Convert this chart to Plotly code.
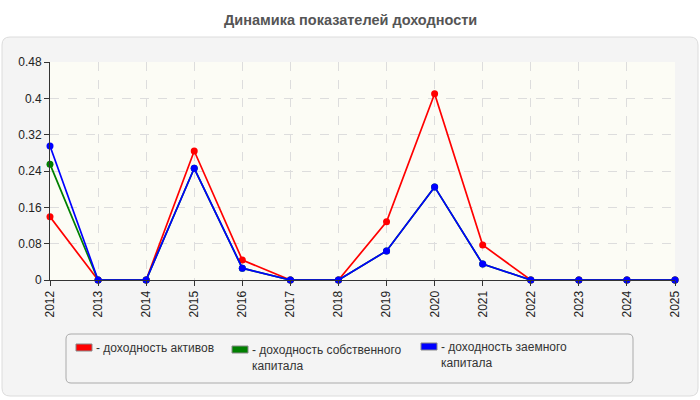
import plotly.graph_objects as go

years = [str(y) for y in range(2012, 2026)]
roa = [0.139, 0, 0, 0.284, 0.044, 0, 0, 0.128, 0.41, 0.077, 0, 0, 0, 0]
roe = [0.255, 0, 0, 0.246, 0.026, 0, 0, 0.064, 0.205, 0.035, 0, 0, 0, 0]
rod = [0.295, 0, 0, 0.246, 0.026, 0, 0, 0.064, 0.205, 0.035, 0, 0, 0, 0]
names = ["- доходность активов", "- доходность собственного<br>капитала", "- доходность заемного<br>капитала"]
colors = ["#ff0000", "#008000", "#0000ff"]
yticks = [0, 0.08, 0.16, 0.24, 0.32, 0.4, 0.48]
ytick_text = ["0", "0.08", "0.16", "0.24", "0.32", "0.4", "0.48"]

W, H = 700, 400
L, R, T, B = 50, 25, 62, 120
pw, ph = W - L - R, H - T - B

def px(x):
    return (x - L) / pw

def py(y):
    return (H - B - y) / ph

fig = go.Figure()
for vals, nm, c in zip([roa, roe, rod], names, colors):
    fig.add_trace(go.Scatter(x=years, y=vals, mode="lines+markers", name=nm,
                             line=dict(color=c, width=1.7), cliponaxis=False,
                             marker=dict(color=c, size=7), showlegend=False))

shapes = []

def rrect(x0, y0, x1, y1, r):
    return (f"M {px(x0+r)},{py(y0)} L {px(x1-r)},{py(y0)} Q {px(x1)},{py(y0)} {px(x1)},{py(y0+r)} "
            f"L {px(x1)},{py(y1-r)} Q {px(x1)},{py(y1)} {px(x1-r)},{py(y1)} "
            f"L {px(x0+r)},{py(y1)} Q {px(x0)},{py(y1)} {px(x0)},{py(y1-r)} "
            f"L {px(x0)},{py(y0+r)} Q {px(x0)},{py(y0)} {px(x0+r)},{py(y0)} Z")

shapes.append(dict(type="path", xref="paper", yref="paper", path=rrect(2, 37, 698, 396, 8),
                   fillcolor="#f4f4f4", line=dict(color="#dcdcdc", width=1), layer="below"))
shapes.append(dict(type="path", xref="paper", yref="paper", path=rrect(66, 334, 633, 383, 5),
                   fillcolor="#f4f4f4", line=dict(color="#aaaaaa", width=1), layer="below"))
shapes.append(dict(type="rect", xref="paper", yref="paper", x0=0, y0=0, x1=1, y1=1,
                   fillcolor="#fcfcf5", line=dict(width=0), layer="below"))

annotations = []
sw = [(76, 344), (232, 346), (421, 343)]
for (sx, sy), nm, c in zip(sw, names, colors):
    shapes.append(dict(type="rect", xref="paper", yref="paper", x0=px(sx), x1=px(sx + 16),
                       y0=py(sy), y1=py(sy + 7), fillcolor=c, line=dict(color="#888", width=1)))
    annotations.append(dict(xref="paper", yref="paper", x=px(sx + 18), y=py(sy - 5),
                            text=nm, showarrow=False, xanchor="left", yanchor="top", align="left",
                            font=dict(size=12, color="#333", family="Liberation Sans, Arial")))

annotations.append(dict(xref="paper", yref="paper", x=px(350), y=py(20), text="<b>Динамика показателей доходности</b>",
                        showarrow=False, xanchor="center", yanchor="middle",
                        font=dict(size=14.5, color="#555", family="Liberation Sans, Arial")))

fig.update_layout(
    width=W, height=H, margin=dict(l=L, r=R, t=T, b=B),
    paper_bgcolor="white", plot_bgcolor="rgba(0,0,0,0)",
    font=dict(family="Liberation Sans, Arial", size=12, color="#222"),
    shapes=shapes, annotations=annotations, showlegend=False,
    xaxis=dict(type="category", tickangle=-90, showgrid=True, gridcolor="#dddddd", griddash="dash",
               showline=True, linecolor="#333", ticks="outside", ticklen=5, tickcolor="#333",
               range=[0, 13], zeroline=False, tickfont=dict(size=12, color="#222")),
    yaxis=dict(range=[0, 0.48], tickvals=yticks, ticktext=ytick_text, showgrid=True,
               gridcolor="#dddddd", griddash="dash", showline=True, linecolor="#333",
               ticks="outside", ticklen=5, tickcolor="#333", zeroline=False,
               tickfont=dict(size=12, color="#222")),
)
fig.write_html("out.html")
